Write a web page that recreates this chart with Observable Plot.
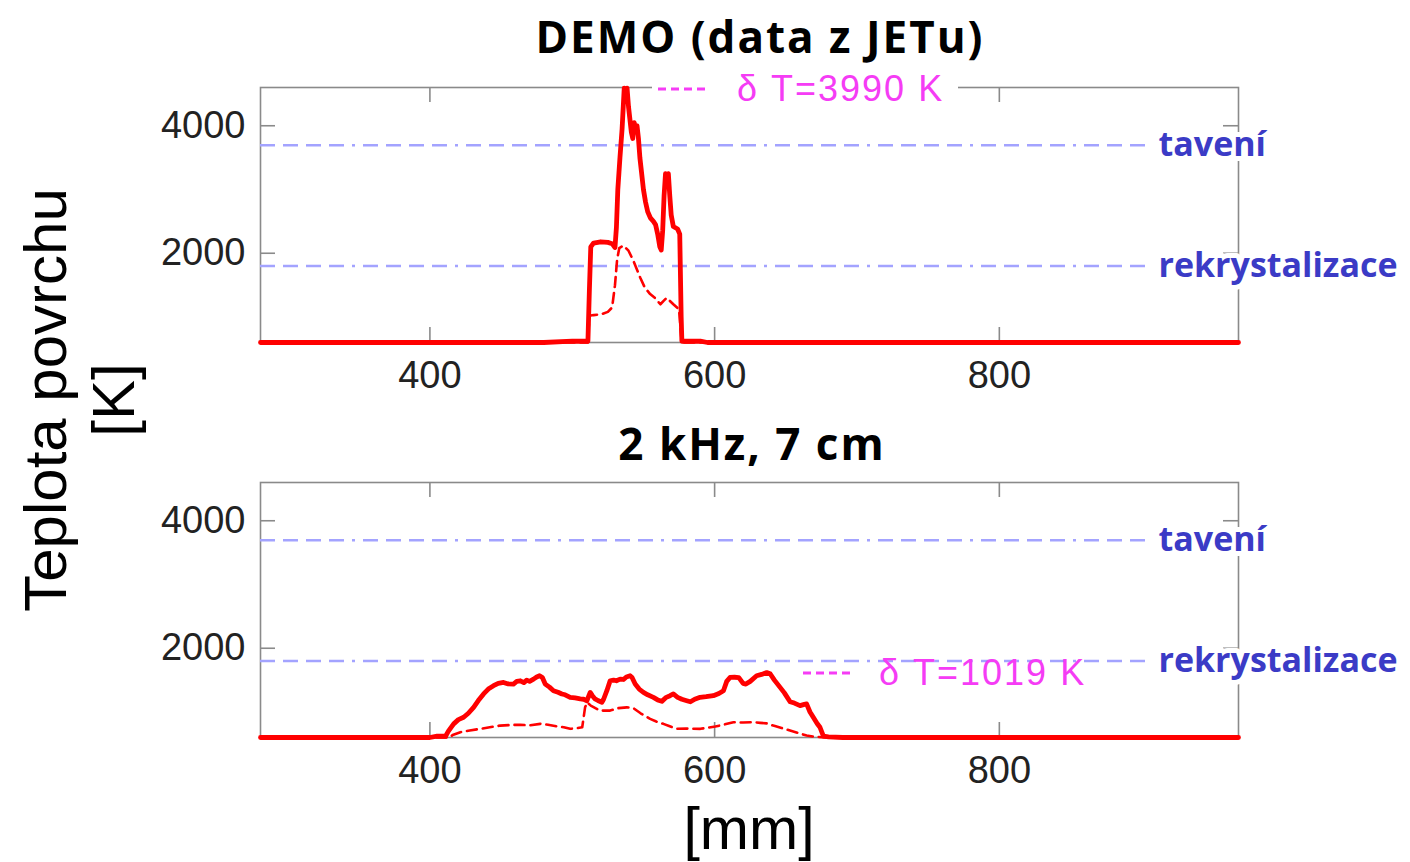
<!DOCTYPE html>
<html>
<head>
<meta charset="utf-8">
<script src="https://cdn.jsdelivr.net/npm/d3@7"></script>
<script src="https://cdn.jsdelivr.net/npm/@observablehq/plot@0.6"></script>
<style>
  html, body { margin: 0; padding: 0; background: #fff; }
  #wrap { position: relative; width: 1410px; height: 862px; overflow: hidden; background: #fff; }
  .panel { position: absolute; left: 0; }
  .title { position: absolute; transform: translate(-50%, -50%); white-space: nowrap;
           font-family: "Open Sans", sans-serif; font-weight: 700; font-size: 44px; letter-spacing: 2px;
           line-height: 44px; color: #000; }
  .ylab { position: absolute; left: 80px; top: 400px; transform: translate(-50%, -50%) rotate(-90deg);
          white-space: nowrap; text-align: center; font-family: "Liberation Sans", sans-serif;
          font-size: 60px; line-height: 68px; color: #000; }
  .xlab { position: absolute; left: 749px; top: 829px; transform: translate(-50%, -50%);
          font-family: "Liberation Sans", sans-serif; font-size: 59px; line-height: 59px; color: #000; }
  .legend { position: absolute; display: flex; align-items: center; height: 36px;
            font-family: "Liberation Sans", sans-serif; font-size: 36px; letter-spacing: 2px; color: #f53cf5; }
  .legend svg { flex: none; }
</style>
</head>
<body>
<div id="wrap"></div>
<script>
// ---- data ----
const xTicks = [400, 600, 800];
const yTicks = [2000, 4000];
const xDomain = [281, 968];
const yDomain = [600, 4600];
const thresholdT = [3695, 1800];
const thresholdLabel = ["tavení", "rekrystalizace"];
const titles = ["DEMO (data z JETu)", "2 kHz, 7 cm"];
const deltaLabels = ["δ T=3990 K", "δ T=1019 K"];

// DEMO (JET data) – solid: max temperature, dashed: other
const demoX = [281,480,500,511,512,513,515,520,525,528,530,531,532,533.5,535,536.5,537.5,538.5,539.5,540.5,541.5,542.5,543.5,544.5,545.5,546.5,547.5,548.5,550,551.5,553,555,557,558.5,560,561.5,562.5,563.5,564.5,565.5,566.5,567.5,568.5,569.5,571,574,575.5,576.5,577,590,595,968];
const demoT = [600,600,620,620,1400,2100,2160,2180,2170,2150,2090,2400,3000,3500,3950,4590,4450,4590,4300,4100,3900,3800,4050,3950,4000,3800,3500,3300,3000,2800,2650,2550,2500,2450,2300,2100,2050,2350,2900,3250,3150,3250,2900,2600,2420,2380,2300,1000,620,620,600,600];
const demoDashX = [281,511,512,515,520,525,528,530,531.5,533,536,539.5,543,547.7,551,554.7,558,561.9,564,566.3,571,575,576.5,577,968];
const demoDashT = [600,600,1020,1030,1040,1080,1150,1500,1900,2080,2120,2040,1880,1620,1460,1360,1300,1200,1250,1300,1200,1120,700,600,600];

// 2 kHz, 7 cm
const khzX = [281,400,405,411,413,416.7,420,423.7,427,430.7,434,437.7,441,444.7,448,451.7,455,458.7,461,463.5,466,468,470,472.8,475,477,479,481,484,486.8,490,492.7,495,498.5,502,505.6,508,510.3,512.6,514,516,518,520.8,522,524.3,526.6,529,531,533.6,536,538,540.6,542,544.2,547,550,553,557,560,562.9,566,568.7,571,574,577,580.4,583,586,589.8,594,599.1,603,606.2,608.5,610.8,614,617,620,622,625,629.5,633,636.6,639,642,646,649,653,656,660,663,664.6,667,669.3,672,674,676.4,680,690,968];
const khzT = [600,600,620,620,700,814,880,917,980,1073,1180,1283,1360,1412,1450,1464,1440,1438,1480,1490,1460,1500,1480,1516,1550,1569,1540,1438,1390,1334,1310,1283,1270,1230,1220,1205,1200,1177,1308,1260,1205,1180,1152,1200,1334,1490,1500,1490,1516,1510,1550,1569,1540,1438,1360,1308,1270,1230,1190,1167,1230,1256,1283,1230,1200,1177,1160,1200,1230,1240,1256,1290,1334,1480,1542,1545,1540,1450,1438,1480,1569,1590,1619,1600,1500,1386,1300,1160,1140,1100,1120,1127,1000,917,820,761,620,610,600,600];
const khzDashX = [281,414,416,421.4,428,435.4,442,449.4,456,463.5,470,477.5,483,489.2,494,498.5,503,507,509,510.5,513,519.6,526.6,532,538.3,543,548,554.7,559,564,568,573.4,580,590,600.5,607,613.2,620,627.2,632,637,641.2,647,653,659,664.6,669.3,675,678,968];
const khzDashT = [600,600,640,683,710,736,760,787,795,800,790,814,800,775,760,736,745,760,1073,1150,1100,1022,1022,1060,1073,1060,980,892,850,814,780,736,740,736,772,805,840,835,840,830,820,787,750,709,670,631,615,605,600,600];

const toRows = (xs, ts) => xs.map((x, i) => ({x, T: ts[i]}));
const thresholds = thresholdT.map((T, i) => ({T, label: thresholdLabel[i]}));

const RED = "#ff0000";
const GRAY = "#8a8a8a";
const FRAME_W = 1410 - 260 - 172;
const FRAME_H = 255;

function panel({height, marginTop, marginBottom, solid, dashed}) {
  const svg = Plot.plot({
    width: 1410, height,
    marginLeft: 260, marginRight: 172, marginTop, marginBottom,
    x: {domain: xDomain},
    y: {domain: yDomain},
    style: {fontFamily: "'Liberation Sans', Arial, sans-serif", fontSize: "38px", background: "transparent", overflow: "visible"},
    marks: [
      Plot.frame({stroke: GRAY, strokeWidth: 1.6}),
      Plot.tickX(xTicks, {x: d => d, stroke: GRAY, strokeWidth: 1.6, insetTop: FRAME_H - 15}),
      Plot.tickX(xTicks, {x: d => d, stroke: GRAY, strokeWidth: 1.6, insetBottom: FRAME_H - 15}),
      Plot.tickY(yTicks, {y: d => d, stroke: GRAY, strokeWidth: 1.6, insetRight: FRAME_W - 15}),
      Plot.tickY(yTicks, {y: d => d, stroke: GRAY, strokeWidth: 1.6, insetLeft: FRAME_W - 15}),
      Plot.axisX(xTicks, {tickSize: 0, tickPadding: 19, label: null, color: "#222", tickFormat: d => String(d)}),
      Plot.axisY(yTicks, {tickSize: 0, tickPadding: 15, label: null, color: "#222", tickFormat: d => String(d)}),
      Plot.ruleY(thresholds, {y: "T", stroke: "#a3a3ff", strokeWidth: 2.6,
        strokeDasharray: "15,8,15,8,15,8,15,8,3,8", insetRight: 88}),
      Plot.line(dashed, {x: "x", y: "T", stroke: RED, strokeWidth: 2.6, strokeDasharray: "10,6"}),
      Plot.line(solid, {x: "x", y: "T", stroke: RED, strokeWidth: 4.8, strokeLinejoin: "round"}),
      Plot.text(thresholds, {y: "T", text: "label", frameAnchor: "right", textAnchor: "start", dx: -80,
        fill: "#3b3bc6", stroke: "white", strokeWidth: 10, fontWeight: "bold",
        fontFamily: "'Open Sans', sans-serif", fontSize: 34, ariaLabel: "thr"})
    ]
  });
  d3.select(svg).selectAll('g[aria-label="thr"] text').style("letter-spacing", "2.5px");
  return svg;
}

const wrap = document.getElementById("wrap");

const topPanel = panel({height: 400, marginTop: 87, marginBottom: 58,
  solid: toRows(demoX, demoT), dashed: toRows(demoDashX, demoDashT)});
topPanel.classList.add("panel"); topPanel.style.top = "0px";
wrap.appendChild(topPanel);

const botPanel = panel({height: 462, marginTop: 82, marginBottom: 125,
  solid: toRows(khzX, khzT), dashed: toRows(khzDashX, khzDashT)});
botPanel.classList.add("panel"); botPanel.style.top = "400px";
wrap.appendChild(botPanel);

function addDiv(cls, html, css) {
  const d = document.createElement("div");
  d.className = cls; d.innerHTML = html;
  Object.assign(d.style, css || {});
  wrap.appendChild(d);
  return d;
}
addDiv("title", titles[0], {left: "760px", top: "36px"});
addDiv("title", titles[1], {left: "752px", top: "443px"});
addDiv("ylab", "Teplota povrchu<br>[K]");
addDiv("xlab", "[mm]");

const dash = '<svg width="60" height="36"><line x1="6" x2="56" y1="18" y2="18" stroke="#f53cf5" stroke-width="3" stroke-dasharray="8,5"/></svg>';
addDiv("legend", dash + '<span style="margin-left:25px">' + deltaLabels[0] + '</span>',
  {left: "652px", top: "71px", width: "306px", background: "#fff"});
addDiv("legend", dash + '<span style="margin-left:22px">' + deltaLabels[1] + '</span>',
  {left: "797px", top: "655px"});
</script>
</body>
</html>
